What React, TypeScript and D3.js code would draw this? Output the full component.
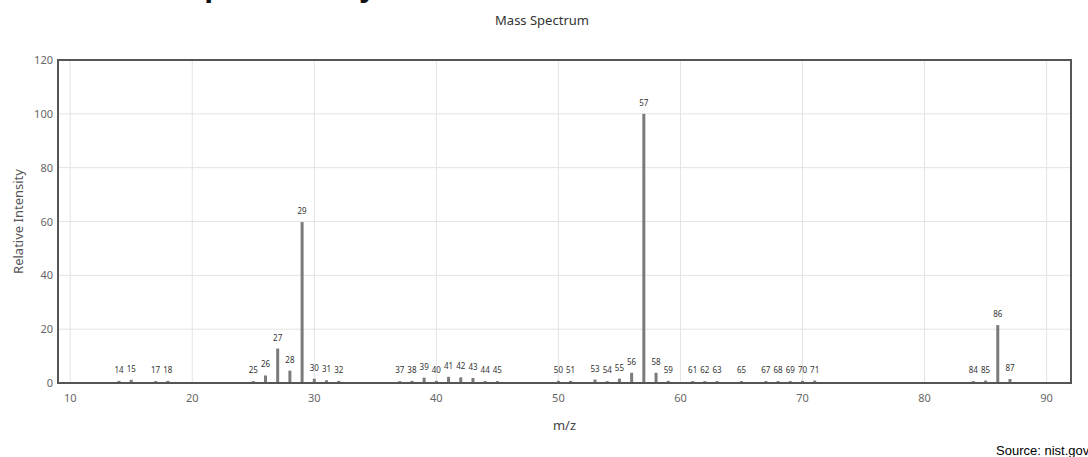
import * as d3 from "d3";
import React from "react";

// m/z peaks and relative intensities
const mzValues = [
  14, 15, 17, 18, 25, 26, 27, 28, 29, 30, 31, 32, 37, 38, 39, 40, 41, 42, 43, 44, 45,
  50, 51, 53, 54, 55, 56, 57, 58, 59, 61, 62, 63, 65, 67, 68, 69, 70, 71, 84, 85, 86, 87,
];
const intensities = [
  0.8, 1.2, 0.7, 0.8, 0.7, 2.8, 12.8, 4.6, 59.8, 1.6, 1.0, 0.8, 0.7, 0.8, 2.0, 0.8, 2.3, 2.1, 1.9, 0.7, 0.7,
  0.8, 0.8, 1.3, 0.7, 1.6, 3.8, 100, 3.8, 0.8, 0.7, 0.7, 0.7, 0.7, 0.7, 0.7, 0.7, 0.8, 0.9, 0.7, 0.9, 21.5, 1.5,
];
const xTicks = [10, 20, 30, 40, 50, 60, 70, 80, 90];
const yTicks = [0, 20, 40, 60, 80, 100, 120];

const width = 1088;
const height = 457;
const margin = { top: 60, right: 17, bottom: 74, left: 58 };

const App = () => {
  const x = d3.scaleLinear().domain([9, 92]).range([margin.left, width - margin.right]);
  const y = d3.scaleLinear().domain([0, 120]).range([height - margin.bottom, margin.top]);

  const peaks = mzValues.map((mz, i) => ({ mz, value: intensities[i] }));
  const barW = 3;
  const plotH = y(0) - y(120);
  const plotW = x(92) - x(9);

  return (
    <svg
      width={width}
      height={height}
      style={{ position: "absolute", left: 0, top: 0, background: "#fff" }}
    >
      {/* page heading, mostly cut off at the top */}
      <text x={94} y={-4} fontFamily="Liberation Sans" fontWeight="bold" fontSize={32} fill="#111">
        Mass Spectrum by
      </text>

      <text
        x={542}
        y={25}
        textAnchor="middle"
        fontFamily="Noto Sans"
        fontSize={13}
        fill="#333"
      >
        Mass Spectrum
      </text>

      {/* grid */}
      <g stroke="#e3e3e3" strokeWidth={1}>
        {xTicks.map((t) => (
          <line key={"gx" + t} x1={x(t)} x2={x(t)} y1={y(120)} y2={y(0)} />
        ))}
        {yTicks.map((t) => (
          <line key={"gy" + t} x1={x(9)} x2={x(92)} y1={y(t)} y2={y(t)} />
        ))}
      </g>

      {/* bars */}
      <g>
        {peaks.map((d) => (
          <rect
            key={"b" + d.mz}
            x={x(d.mz) - barW / 2}
            y={y(d.value)}
            width={barW}
            height={y(0) - y(d.value)}
            fill="#7b7b7b"
          />
        ))}
      </g>

      {/* peak labels */}
      <g fontFamily="Noto Sans" fontSize={8} fill="#333" textAnchor="middle">
        {peaks.map((d) => (
          <text key={"l" + d.mz} x={x(d.mz)} y={y(d.value) - 8}>
            {d.mz}
          </text>
        ))}
      </g>

      {/* frame */}
      <rect
        x={margin.left}
        y={margin.top}
        width={plotW}
        height={plotH}
        fill="none"
        stroke="#555"
        strokeWidth={2}
      />

      {/* tick labels */}
      <g fontFamily="Noto Sans" fontSize={11} fill="#666">
        {xTicks.map((t) => (
          <text key={"tx" + t} x={x(t)} y={y(0) + 19} textAnchor="middle">
            {t}
          </text>
        ))}
        {yTicks.map((t) => (
          <text key={"ty" + t} x={margin.left - 5} y={y(t) + 4} textAnchor="end">
            {t}
          </text>
        ))}
      </g>

      <text
        x={x(50.5)}
        y={430}
        textAnchor="middle"
        fontFamily="Noto Sans"
        fontSize={13}
        fill="#444"
      >
        m/z
      </text>
      <text
        transform={`translate(23,${(y(0) + y(120)) / 2}) rotate(-90)`}
        textAnchor="middle"
        fontFamily="Noto Sans"
        fontSize={13}
        fill="#555"
      >
        Relative Intensity
      </text>

      <text x={996} y={455} fontFamily="Liberation Sans" fontSize={13} fill="#000">
        Source: nist.gov
      </text>
    </svg>
  );
};

export default App;
